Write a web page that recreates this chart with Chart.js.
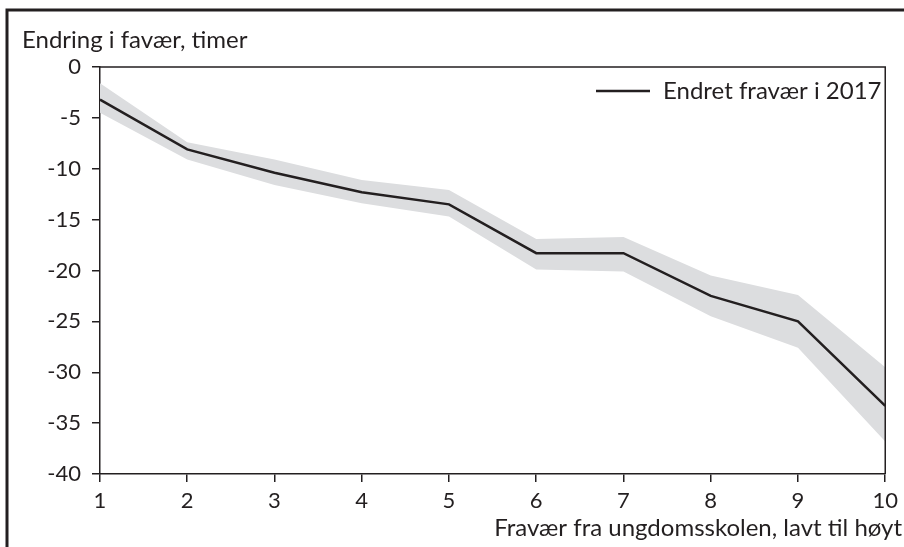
<!DOCTYPE html>
<html lang="no">
<head>
<meta charset="UTF-8">
<title>Endret fravær</title>
<script src="https://cdn.jsdelivr.net/npm/chart.js@4.4.0/dist/chart.umd.min.js"></script>
<style>
  html, body { margin: 0; padding: 0; background: #fff; }
  #wrap { width: 904px; height: 547px; }
</style>
</head>
<body>
<div id="wrap"><canvas id="chart" width="904" height="547"></canvas></div>
<script>
// data
const groups = ['1', '2', '3', '4', '5', '6', '7', '8', '9', '10'];
const endring = [-3.2, -8.1, -10.4, -12.3, -13.5, -18.3, -18.3, -22.5, -25.0, -33.3];
const ovre = [-1.6, -7.4, -9.1, -11.1, -12.1, -16.9, -16.7, -20.5, -22.4, -29.5];
const nedre = [-4.5, -9.1, -11.6, -13.4, -14.7, -19.9, -20.1, -24.5, -27.6, -36.8];
const yTicks = [0, -5, -10, -15, -20, -25, -30, -35, -40];

const ink = '#231f20';
const band = '#dcdddf';
const fontFam = 'Lato, "Open Sans", sans-serif';

// frame, box around the plot, title texts and legend
const extras = {
  id: 'extras',
  afterDraw(chart) {
    const ctx = chart.ctx;
    const a = chart.chartArea;
    ctx.save();
    // outer frame (top and left only)
    ctx.strokeStyle = ink;
    ctx.lineWidth = 3;
    ctx.beginPath();
    ctx.moveTo(7, 547);
    ctx.lineTo(7, 10);
    ctx.lineTo(904, 10);
    ctx.stroke();
    // plot box
    ctx.lineWidth = 1.5;
    ctx.beginPath();
    ctx.moveTo(a.left, a.top);
    ctx.lineTo(a.right, a.top);
    ctx.lineTo(a.right, a.bottom);
    ctx.stroke();
    // legend
    ctx.lineWidth = 2.5;
    ctx.beginPath();
    ctx.moveTo(596, 91);
    ctx.lineTo(650, 91);
    ctx.stroke();
    ctx.fillStyle = ink;
    ctx.font = '24px ' + fontFam;
    ctx.textBaseline = 'middle';
    ctx.textAlign = 'left';
    ctx.fillText('Endret fravær i 2017', 663, 91);
    ctx.fillText('Endring i favær, timer', 22, 40);
    // x axis title
    ctx.textAlign = 'right';
    ctx.fillText('Fravær fra ungdomsskolen, lavt til høyt', 902, 528);
    ctx.restore();
  }
};

new Chart(document.getElementById('chart'), {
  type: 'line',
  data: {
    labels: groups,
    datasets: [
      { data: ovre, order: 2, borderWidth: 0, pointRadius: 0, fill: false, backgroundColor: band, borderColor: 'rgba(0,0,0,0)', tension: 0 },
      { data: nedre, order: 1, borderWidth: 0, pointRadius: 0, fill: '-1', backgroundColor: band, borderColor: 'rgba(0,0,0,0)', tension: 0 },
      { label: 'Endret fravær i 2017', data: endring, order: 0, borderColor: ink, borderWidth: 2.5, pointRadius: 0, fill: false, tension: 0 }
    ]
  },
  options: {
    responsive: false,
    animation: false,
    layout: { padding: { left: 0, top: 67, right: 16, bottom: 0 } },
    plugins: {
      legend: { display: false },
      tooltip: { enabled: false },
      title: { display: false }
    },
    scales: {
      x: {
        offset: false,
        grid: { display: true, drawOnChartArea: false, drawTicks: true, tickLength: 8, color: ink, lineWidth: 1.5 },
        border: { display: true, color: ink, width: 1.5 },
        ticks: { color: ink, font: { family: fontFam, size: 22 }, padding: 6, maxRotation: 0, autoSkip: false },
        afterFit(s) { s.height = 73; }
      },
      y: {
        min: -40,
        max: 0,
        afterBuildTicks(s) { s.ticks = yTicks.map(v => ({ value: v })); },
        grid: { display: true, drawOnChartArea: false, drawTicks: true, tickLength: 8, color: ink, lineWidth: 1.5 },
        border: { display: true, color: ink, width: 1.5 },
        ticks: { color: ink, font: { family: fontFam, size: 22 }, padding: 11 },
        afterFit(s) { s.width = 100; }
      }
    }
  },
  plugins: [extras]
});
</script>
</body>
</html>
